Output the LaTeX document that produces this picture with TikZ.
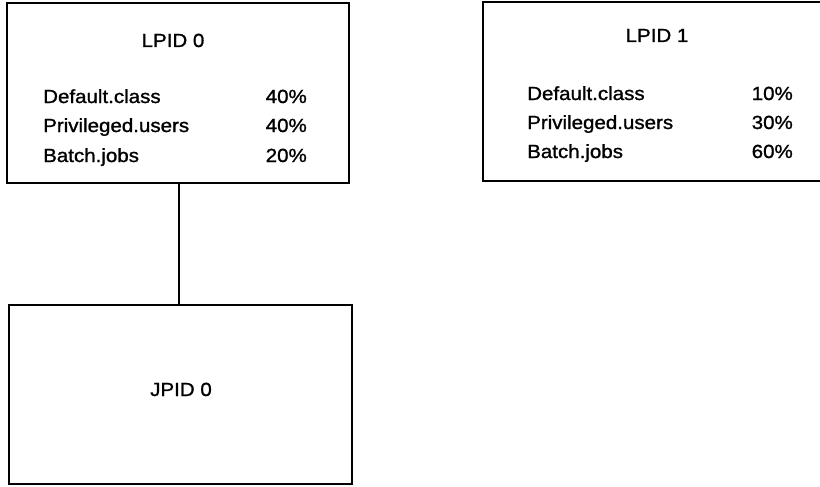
\documentclass[tikz,border=0pt]{standalone}
\usepackage{fontspec}
\setmainfont[FakeStretch=1.08,FakeBold=1.2]{Liberation Sans}
\begin{document}
\begin{tikzpicture}[x=1pt,y=-1pt,
  box/.style={draw, line width=2.5pt, inner sep=0pt},
  txt/.style={font=\fontsize{19}{21}\selectfont, inner sep=0pt},
  lbl/.style={txt, anchor=base west},
  pct/.style={txt, anchor=base east},
  ttl/.style={txt, anchor=base}]
\useasboundingbox (0,0) rectangle (820,487);
% boxes
\node[box, minimum width=342pt, minimum height=180pt] (l0) at (178,93) {};
\node[box, minimum width=340pt, minimum height=179pt] (l1) at (653,91.5) {};
\node[box, minimum width=343pt, minimum height=179pt] (j0) at (180.5,394.5) {};
% LPID 0
\node[ttl] (t0) at (173,47) {LPID 0};
\node[lbl] (a0) at (43,103) {Default.class};
\node[lbl] (b0) at (43,132) {Privileged.users};
\node[lbl] (c0) at (43,162) {Batch.jobs};
\node[pct] (pa0) at (307,103) {40\%};
\node[pct] (pb0) at (307,132) {40\%};
\node[pct] (pc0) at (307,162) {20\%};
% LPID 1
\node[ttl] (t1) at (657,42) {LPID 1};
\node[lbl] (a1) at (527,100) {Default.class};
\node[lbl] (b1) at (527,129) {Privileged.users};
\node[lbl] (c1) at (527,158) {Batch.jobs};
\node[pct] (pa1) at (793,100) {10\%};
\node[pct] (pb1) at (793,129) {30\%};
\node[pct] (pc1) at (793,158) {60\%};
% JPID 0
\node[ttl] (tj) at (181,396) {JPID 0};
% connector
\coordinate (cx) at (179,0);
\draw[line width=1.3pt] (l0.south -| cx) -- (j0.north -| cx);
\end{tikzpicture}
\end{document}
